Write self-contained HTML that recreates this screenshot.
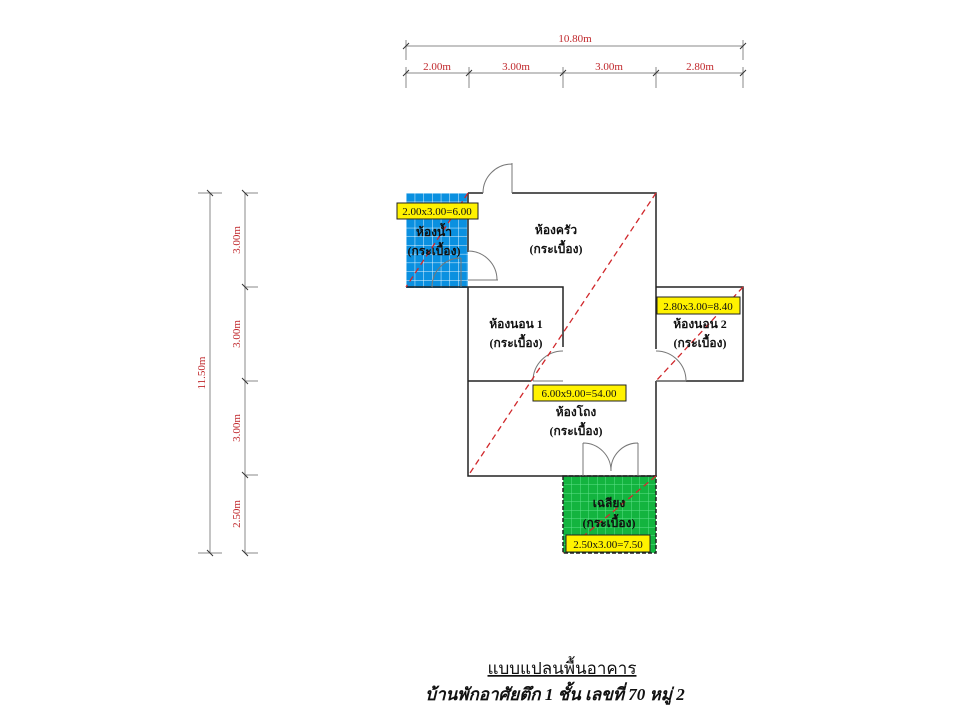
<!DOCTYPE html>
<html><head><meta charset="utf-8"><style>
html,body{margin:0;padding:0;background:#fff;}
svg{display:block;}
.th{font-family:"Liberation Serif","Noto Serif CJK SC","Noto Sans CJK SC",serif;font-weight:bold;font-size:12px;fill:#111;}
.d{font-family:"Liberation Serif",serif;font-size:11px;fill:#c0282c;}
.y{font-family:"Liberation Serif",serif;font-size:11px;fill:#111;}
</style></head><body>
<svg width="960" height="720" viewBox="0 0 960 720" xmlns="http://www.w3.org/2000/svg">
<defs>
<pattern id="bg" width="8.7" height="8.7" patternUnits="userSpaceOnUse" x="406" y="193">
<rect width="8.7" height="8.7" fill="#0a90e0"/><path d="M0 0H8.7M0 0V8.7" stroke="#e8f6ff" stroke-width="1"/></pattern>
<pattern id="gg" width="8.5" height="8.5" patternUnits="userSpaceOnUse" x="563" y="476">
<rect width="8.5" height="8.5" fill="#13b43f"/><path d="M0 0H8.5M0 0V8.5" stroke="#5ee08a" stroke-width="1"/></pattern>
</defs>
<g stroke="#888" stroke-width="1" fill="none">
<line x1="406" y1="46" x2="743" y2="46"/>
<line x1="406" y1="40" x2="406" y2="60"/><line x1="743" y1="40" x2="743" y2="60"/>
<line x1="406" y1="73" x2="743" y2="73"/>
<line x1="406" y1="67" x2="406" y2="88"/><line x1="469" y1="67" x2="469" y2="88"/>
<line x1="563" y1="67" x2="563" y2="88"/><line x1="656" y1="67" x2="656" y2="88"/><line x1="743" y1="67" x2="743" y2="88"/>
<line x1="210" y1="193" x2="210" y2="553"/>
<line x1="198" y1="193" x2="222" y2="193"/><line x1="198" y1="553" x2="222" y2="553"/>
<line x1="245" y1="193" x2="245" y2="553"/>
<line x1="245" y1="193" x2="258" y2="193"/><line x1="245" y1="287" x2="258" y2="287"/>
<line x1="245" y1="381" x2="258" y2="381"/><line x1="245" y1="475" x2="258" y2="475"/><line x1="245" y1="553" x2="258" y2="553"/>
</g>
<g stroke="#333" stroke-width="1">
<line x1="403" y1="49" x2="409" y2="43"/><line x1="740" y1="49" x2="746" y2="43"/>
<line x1="403" y1="76" x2="409" y2="70"/><line x1="466" y1="76" x2="472" y2="70"/><line x1="560" y1="76" x2="566" y2="70"/><line x1="653" y1="76" x2="659" y2="70"/><line x1="740" y1="76" x2="746" y2="70"/>
<line x1="207" y1="190" x2="213" y2="196"/><line x1="207" y1="550" x2="213" y2="556"/>
<line x1="242" y1="190" x2="248" y2="196"/><line x1="242" y1="284" x2="248" y2="290"/><line x1="242" y1="378" x2="248" y2="384"/><line x1="242" y1="472" x2="248" y2="478"/><line x1="242" y1="550" x2="248" y2="556"/>
</g>
<text class="d" x="575" y="42" text-anchor="middle">10.80m</text>
<text class="d" x="437" y="70" text-anchor="middle">2.00m</text>
<text class="d" x="516" y="70" text-anchor="middle">3.00m</text>
<text class="d" x="609" y="70" text-anchor="middle">3.00m</text>
<text class="d" x="700" y="70" text-anchor="middle">2.80m</text>
<text class="d" transform="translate(205,373) rotate(-90)" text-anchor="middle">11.50m</text>
<text class="d" transform="translate(240,240) rotate(-90)" text-anchor="middle">3.00m</text>
<text class="d" transform="translate(240,334) rotate(-90)" text-anchor="middle">3.00m</text>
<text class="d" transform="translate(240,428) rotate(-90)" text-anchor="middle">3.00m</text>
<text class="d" transform="translate(240,514) rotate(-90)" text-anchor="middle">2.50m</text>
<rect x="406" y="193" width="62" height="95" fill="url(#bg)"/>
<rect x="563" y="476" width="93" height="77" fill="url(#gg)" stroke="#222" stroke-width="1.5" stroke-dasharray="4,2"/>
<g stroke="#222" stroke-width="1.5" fill="none">
<path d="M468 193H483M512 193H656V349M656 381V476H563M563 476H468V287"/>
<path d="M468 193V252M468 287H563V347M468 381H531M656 381H743V287H656"/>
<path d="M406 287H468"/>
</g>
<g stroke="#777" stroke-width="1" fill="none">
<path d="M512 193V163M483 193A29 29 0 0 1 512 164"/>
<path d="M468 280H498M468 251A29 29 0 0 1 497 280"/>
<path d="M461 287V258M432 287A29 29 0 0 1 461 258"/>
<path d="M533 381H563M533 381A30 30 0 0 1 563 351"/>
<path d="M656 381H686M656 351A30 30 0 0 1 686 381"/>
<path d="M583 476V443M611 471A28 28 0 0 0 583 443M638 476V443M611 471A27 27 0 0 1 638 443"/>
</g>
<g stroke="#d0282c" stroke-width="1.3" stroke-dasharray="6,4" fill="none">
<line x1="656" y1="193" x2="468" y2="476"/>
<line x1="468" y1="193" x2="406" y2="287"/>
<line x1="743" y1="287" x2="656" y2="381"/>
<line x1="656" y1="476" x2="563" y2="553"/>
</g>
<g fill="#fff200" stroke="#222" stroke-width="1">
<rect x="397" y="203" width="81" height="16"/>
<rect x="657" y="297" width="83" height="17"/>
<rect x="533" y="385" width="93" height="16"/>
<rect x="566" y="535" width="84" height="17"/>
</g>
<text class="y" x="437" y="215" text-anchor="middle">2.00x3.00=6.00</text>
<text class="y" x="698" y="310" text-anchor="middle">2.80x3.00=8.40</text>
<text class="y" x="579" y="397" text-anchor="middle">6.00x9.00=54.00</text>
<text class="y" x="608" y="548" text-anchor="middle">2.50x3.00=7.50</text>
<text class="th" x="434" y="236" text-anchor="middle">ห้องน้ำ</text>
<text class="th" x="434" y="255" text-anchor="middle">(กระเบื้อง)</text>
<text class="th" x="556" y="234" text-anchor="middle">ห้องครัว</text>
<text class="th" x="556" y="253" text-anchor="middle">(กระเบื้อง)</text>
<text class="th" x="516" y="328" text-anchor="middle">ห้องนอน 1</text>
<text class="th" x="516" y="347" text-anchor="middle">(กระเบื้อง)</text>
<text class="th" x="700" y="328" text-anchor="middle">ห้องนอน 2</text>
<text class="th" x="700" y="347" text-anchor="middle">(กระเบื้อง)</text>
<text class="th" x="576" y="416" text-anchor="middle">ห้องโถง</text>
<text class="th" x="576" y="435" text-anchor="middle">(กระเบื้อง)</text>
<text class="th" x="609" y="507" text-anchor="middle">เฉลียง</text>
<text class="th" x="609" y="527" text-anchor="middle">(กระเบื้อง)</text>
<text x="562" y="674" text-anchor="middle" font-family="Liberation Serif,'Noto Serif CJK SC',serif" font-size="17" fill="#111" text-decoration="underline">แบบแปลนพื้นอาคาร</text>
<text x="555" y="700" text-anchor="middle" font-family="Liberation Serif,'Noto Serif CJK SC',serif" font-size="17" font-weight="bold" font-style="italic" fill="#111">บ้านพักอาศัยตึก 1 ชั้น  เลขที่ 70  หมู่ 2</text>
</svg>
</body></html>
